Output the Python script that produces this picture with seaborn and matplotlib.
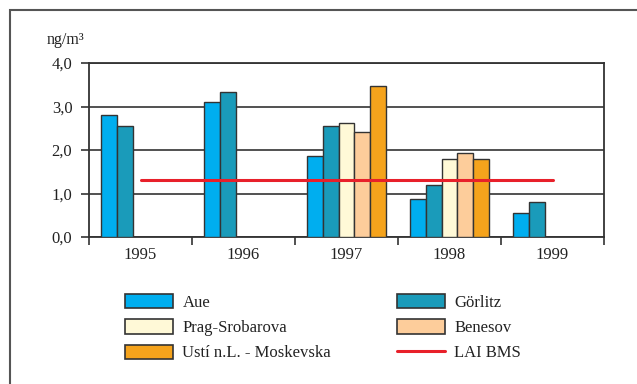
import numpy as np
import pandas as pd
import matplotlib
matplotlib.use("Agg")
import matplotlib.pyplot as plt
from matplotlib.patches import Patch, Rectangle
from matplotlib.lines import Line2D
import seaborn as sns

sns.set_style("white")
plt.rcParams["font.family"] = ["Liberation Serif", "DejaVu Serif"]

years = ["1995", "1996", "1997", "1998", "1999"]
stations = ["Aue", "Görlitz", "Prag-Srobarova", "Benesov", "Ustí n.L. - Moskevska"]
aue = [2.80, 3.10, 1.87, 0.87, 0.56]
goerlitz = [2.55, 3.34, 2.55, 1.19, 0.81]
prag = [np.nan, np.nan, 2.61, 1.80, np.nan]
benesov = [np.nan, np.nan, 2.42, 1.93, np.nan]
usti = [np.nan, np.nan, 3.46, 1.80, np.nan]
lai_bms = 1.30
colors = ["#00AEEF", "#1A9BBA", "#FFF9D7", "#FDCD9B", "#F5A31C"]
line_color = "#E8202A"

series = [aue, goerlitz, prag, benesov, usti]
rows = []
for name, vals in zip(stations, series):
    for yr, v in zip(years, vals):
        if not np.isnan(v):
            rows.append({"Jahr": yr, "Station": name, "Wert": v})
df = pd.DataFrame(rows)

fig = plt.figure(figsize=(6.37, 3.84), dpi=100)
ax = fig.add_axes([89 / 637, 1 - 237 / 384, (604 - 89) / 637, (237 - 63) / 384])

sns.barplot(data=df, x="Jahr", y="Wert", hue="Station", order=years,
            hue_order=stations, palette=colors, saturation=1, width=0.76, dodge=True,
            errorbar=None, edgecolor="#333333", linewidth=1.0, legend=False,
            ax=ax, zorder=3)

# LAI BMS reference value, drawn from the first to the last year
ax.plot([0, len(years) - 1], [lai_bms, lai_bms], color=line_color, lw=2.2, zorder=4)

ax.set_xlim(-0.5, len(years) - 0.5)
ax.set_ylim(0, 4)
ax.set_yticks([0, 1, 2, 3, 4])
ax.set_yticklabels(["0,0", "1,0", "2,0", "3,0", "4,0"])
ax.set_xlabel("")
ax.set_ylabel("")
ax.yaxis.grid(True, color="#333333", lw=1.2, zorder=0)
ax.xaxis.grid(False)
ax.set_axisbelow(True)
for s in ax.spines.values():
    s.set_visible(True)
    s.set_color("#333333")
    s.set_linewidth(1.3)
ax.set_xticks(np.arange(-0.5, len(years), 1.0), minor=True)
ax.tick_params(axis="x", which="major", length=0, pad=7, labelsize=12, colors="#222222")
ax.tick_params(axis="x", which="minor", length=6, width=1.2, color="#333333", direction="out", bottom=True)
ax.tick_params(axis="y", which="major", length=6, width=1.2, color="#333333", direction="out",
               pad=6, labelsize=12, left=True, labelcolor="#222222")

fig.text(47 / 637, 1 - 44 / 384, "ng/m³", fontsize=11.5, color="#222222", ha="left", va="baseline")

# Outer frame
fig.patches.append(Rectangle((10 / 637, -0.1), 1.2, 1 - 10 / 384 + 0.1, transform=fig.transFigure,
                             fill=False, edgecolor="#555555", lw=1.5))

def bar_handle(c):
    return Patch(facecolor=c, edgecolor="#333333", linewidth=1.2)

leg_kw = dict(frameon=False, fontsize=12, handlelength=2.9, handleheight=0.95,
              handletextpad=0.55, labelspacing=0.5, borderpad=0, borderaxespad=0,
              loc="upper left")
leg1 = fig.legend([bar_handle(colors[0]), bar_handle(colors[2]), bar_handle(colors[4])],
                  [stations[0], stations[2], stations[4]],
                  bbox_to_anchor=(125 / 637, 1 - 294 / 384), **leg_kw)
for t in leg1.get_texts():
    t.set_color("#222222")
leg2 = fig.legend([bar_handle(colors[1]), bar_handle(colors[3]),
                   Line2D([], [], color=line_color, lw=2.2)],
                  [stations[1], stations[3], "LAI BMS"],
                  bbox_to_anchor=(397 / 637, 1 - 294 / 384), **leg_kw)
for t in leg2.get_texts():
    t.set_color("#222222")

fig.savefig("out.png", dpi=100)
